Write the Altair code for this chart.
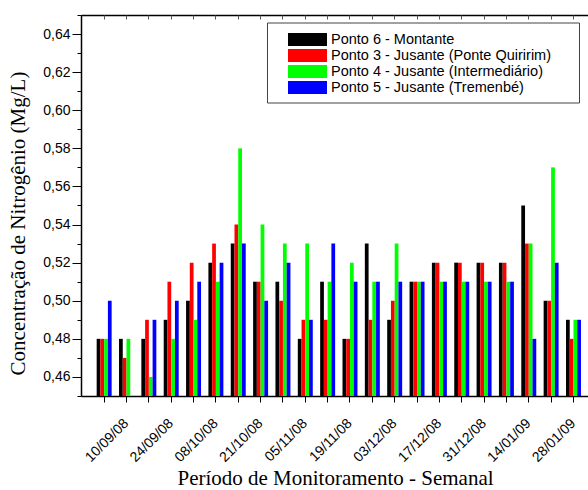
import altair as alt
import pandas as pd

# Weekly sampling dates (every other one is labelled on the axis)
dates = ["03/09/08", "10/09/08", "17/09/08", "24/09/08", "01/10/08", "08/10/08",
         "15/10/08", "21/10/08", "29/10/08", "05/11/08", "12/11/08", "19/11/08",
         "26/11/08", "03/12/08", "10/12/08", "17/12/08", "24/12/08", "31/12/08",
         "07/01/09", "14/01/09", "21/01/09", "28/01/09"]
labeled_dates = ["10/09/08", "24/09/08", "08/10/08", "21/10/08", "05/11/08", "19/11/08",
                 "03/12/08", "17/12/08", "31/12/08", "14/01/09", "28/01/09"]

series = ["Ponto 6 - Montante",
          "Ponto 3 - Jusante (Ponte Quiririm)",
          "Ponto 4 - Jusante (Intermediário)",
          "Ponto 5 - Jusante (Tremenbé)"]
colors = ["#000000", "#ff0000", "#00ff00", "#0000ff"]

ponto6 = [0.48, 0.48, 0.48, 0.49, 0.50, 0.52, 0.53, 0.51, 0.51, 0.48, 0.51,
          0.48, 0.53, 0.49, 0.51, 0.52, 0.52, 0.52, 0.52, 0.55, 0.50, 0.49]
ponto3 = [0.48, 0.47, 0.49, 0.51, 0.52, 0.53, 0.54, 0.51, 0.50, 0.49, 0.49,
          0.48, 0.49, 0.50, 0.51, 0.52, 0.52, 0.52, 0.52, 0.53, 0.50, 0.48]
ponto4 = [0.48, 0.48, 0.46, 0.48, 0.49, 0.51, 0.58, 0.54, 0.53, 0.53, 0.51,
          0.52, 0.51, 0.53, 0.51, 0.51, 0.51, 0.51, 0.51, 0.53, 0.57, 0.49]
ponto5 = [0.50, 0.45, 0.49, 0.50, 0.51, 0.52, 0.53, 0.50, 0.52, 0.49, 0.53,
          0.51, 0.51, 0.51, 0.51, 0.51, 0.51, 0.51, 0.51, 0.48, 0.52, 0.49]

y_major = [0.46, 0.48, 0.50, 0.52, 0.54, 0.56, 0.58, 0.60, 0.62, 0.64]
y_minor = [0.45, 0.47, 0.49, 0.51, 0.53, 0.55, 0.57, 0.59, 0.61, 0.63, 0.65]

rows = []
for name, vals in zip(series, [ponto6, ponto3, ponto4, ponto5]):
    for d, v in zip(dates, vals):
        rows.append({"Data": d, "Ponto": name, "Valor": v})
df = pd.DataFrame(rows)

lab_list = "[" + ",".join("'" + d + "'" for d in labeled_dates) + "]"

x_scale = alt.Scale(domain=dates, paddingInner=0.33, paddingOuter=0.508, align=0.69)
y_scale = alt.Scale(domain=[0.45, 0.65], zero=False, nice=False)
off_scale = alt.Scale(domain=series, paddingInner=0, paddingOuter=0)

# legend swatch: wide rectangle to the right of the (18px) symbol slot, plus an
# empty point further right that widens the legend box to the original size
swatch = "M0.444,-0.722H4.778V0.722H0.444Z M31.8,0L31.8,0"

bars = alt.Chart(df).mark_bar(clip=True).encode(
    x=alt.X("Data:N", sort=dates, scale=x_scale,
            axis=alt.Axis(orient="bottom", title="Período de Monitoramento - Semanal",
                          values=dates,
                          labelExpr="indexof(" + lab_list + ", datum.value) >= 0 ? datum.value : ''",
                          labelAngle=315, labelAlign="right", labelBaseline="middle",
                          labelFont="Liberation Sans", labelFontSize=14, labelColor="black",
                          labelPadding=19, tickSize=6, tickColor="black",
                          domainColor="black", domainWidth=1.5,
                          titleFont="Liberation Serif", titleFontSize=21,
                          titleFontWeight="normal", titleColor="black",
                          titleAnchor="middle", titleX=254, titleY=88,
                          titleBaseline="alphabetic", grid=False)),
    xOffset=alt.XOffset("Ponto:N", sort=series, scale=off_scale),
    y=alt.Y("Valor:Q", scale=y_scale,
            axis=alt.Axis(orient="left", values=y_major,
                          labelExpr="replace(format(datum.value, '.2f'), '.', ',')",
                          labelFont="Liberation Sans", labelFontSize=14, labelColor="black",
                          labelPadding=2, tickSize=9, tickColor="black",
                          domainColor="black", domainWidth=1.5, grid=False,
                          title="Concentração de Nitrogênio (Mg/L)",
                          titleFont="Liberation Serif", titleFontSize=21,
                          titleFontWeight="normal", titleColor="black",
                          titleAngle=270, titleAlign="center", titleBaseline="alphabetic",
                          titleX=-57, titleY=208)),
    y2=alt.datum(0.45),
    color=alt.Color("Ponto:N", sort=series,
                    scale=alt.Scale(domain=series, range=colors),
                    legend=alt.Legend(orient="none", legendX=186, legendY=7.5, title=None,
                                      symbolType=swatch,
                                      symbolSize=324, symbolStrokeWidth=0,
                                      symbolOpacity=1,
                                      labelFont="Liberation Sans", labelFontSize=14.5,
                                      labelColor="black", labelOffset=38, labelLimit=400,
                                      padding=8, rowPadding=0,
                                      strokeColor="#444444", fillColor="white")),
)

frame = alt.Chart(df).mark_bar(opacity=0).encode(
    x=alt.X("Data:N", sort=dates,
            axis=alt.Axis(orient="top", title=None, labels=False, ticks=False,
                          domainColor="black", domainWidth=1.5, grid=False)),
    xOffset=alt.XOffset("Ponto:N", sort=series),
    y=alt.Y("Valor:Q",
            axis=alt.Axis(orient="left", values=y_minor, labels=False, tickSize=4,
                          tickColor="black", domain=False, title=None, grid=False)),
    y2=alt.datum(0.45),
)

top_ticks = alt.Chart(df).mark_bar(opacity=0).encode(
    x=alt.X("Data:N", sort=dates,
            axis=alt.Axis(orient="top", title=None, labels=False, ticks=True,
                          tickSize=4, offset=-4, tickColor="#555555",
                          domain=False, grid=False)),
    xOffset=alt.XOffset("Ponto:N", sort=series),
    y=alt.Y("Valor:Q", axis=None),
    y2=alt.datum(0.45),
)

chart = alt.layer(bars, frame, top_ticks).resolve_axis(
    x="independent", y="independent"
).properties(
    width=507, height=381,
    padding={"left": 81, "top": 15, "right": 0, "bottom": 94},
    autosize=alt.AutoSizeParams(type="none"),
    background="white",
).configure_view(stroke=None)

chart.save("out.html", embed_options={"renderer": "svg", "actions": False})
